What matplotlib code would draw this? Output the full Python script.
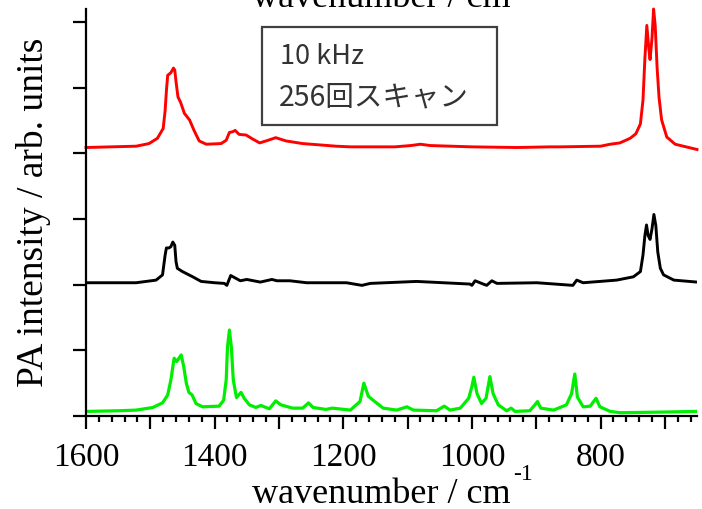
import matplotlib
matplotlib.use('Agg')
import matplotlib.pyplot as plt
from matplotlib.ticker import MultipleLocator, FuncFormatter
from matplotlib.patches import Rectangle

# spectra (wavenumber in cm-1, offset intensity)
red_x = [1600, 1522, 1502, 1489, 1480, 1477, 1475, 1473, 1468, 1464, 1462, 1460, 1457, 1453,
         1447, 1439, 1432, 1424, 1413, 1390, 1382, 1377, 1372, 1368, 1362, 1351,
         1341, 1330, 1317, 1305, 1289, 1263, 1211, 1189, 1120, 1095, 1080, 1065,
         1000, 930, 878, 863, 800, 785, 770, 754, 745, 738, 734, 731, 728, 725,
         723, 720, 717.5, 715, 712, 709, 705, 697, 684, 650]
red_y = [4.09, 4.11, 4.15, 4.23, 4.38, 4.65, 4.95, 5.19, 5.23, 5.30, 5.27, 5.09, 4.86, 4.78,
         4.61, 4.51, 4.35, 4.19, 4.14, 4.15, 4.20, 4.32, 4.33, 4.35, 4.29, 4.28,
         4.22, 4.16, 4.20, 4.24, 4.19, 4.15, 4.11, 4.10, 4.10, 4.12, 4.14, 4.12,
         4.10, 4.09, 4.10, 4.10, 4.11, 4.14, 4.16, 4.23, 4.30, 4.45, 4.81, 5.45,
         5.95, 5.60, 5.43, 5.75, 6.20, 5.95, 5.30, 4.85, 4.51, 4.25, 4.14, 4.06]

black_x = [1600, 1522, 1491, 1481, 1477, 1475, 1471, 1468, 1465, 1462, 1460, 1458,
           1450, 1434, 1421, 1400, 1385, 1381, 1375, 1360, 1350, 1329, 1311, 1303,
           1283, 1257, 1195, 1171, 1158, 1086, 1003, 1000, 995, 985, 977, 969, 961,
           899, 843, 837, 827, 775, 749, 738, 734, 731, 728.5, 726, 723, 720,
           717, 714, 711, 707, 702, 686, 650]
black_y = [2.03, 2.03, 2.07, 2.15, 2.45, 2.56, 2.56, 2.58, 2.65, 2.60, 2.35, 2.25,
           2.20, 2.12, 2.05, 2.03, 2.02, 1.99, 2.14, 2.06, 2.08, 2.04, 2.08, 2.06,
           2.06, 2.03, 2.03, 1.99, 2.02, 2.05, 2.01, 1.99, 2.06, 2.02, 1.99, 2.06, 2.02,
           2.03, 1.99, 2.07, 2.03, 2.07, 2.12, 2.20, 2.45, 2.75, 2.91, 2.75, 2.69, 2.85,
           3.07, 2.90, 2.50, 2.25, 2.15, 2.07, 2.04]

green_x = [1600, 1548, 1522, 1496, 1481, 1473, 1468, 1463, 1459, 1452, 1448, 1444,
           1440, 1435, 1429, 1419, 1393, 1386, 1382, 1380, 1377, 1374, 1371, 1366,
           1359, 1354, 1346, 1336, 1328, 1315, 1305, 1297, 1279, 1263, 1254, 1247,
           1227, 1217, 1189, 1174, 1168, 1161, 1151, 1138, 1117, 1101, 1091, 1055,
           1043, 1034, 1018, 1005, 1000, 997, 992, 985, 978, 972, 967, 959, 946,
           939, 933, 910, 902, 898, 893, 873, 853, 845, 840, 836, 827, 816, 807,
           801, 785, 769, 702, 650]
green_y = [0.07, 0.08, 0.09, 0.13, 0.20, 0.32, 0.55, 0.88, 0.83, 0.93, 0.75, 0.50,
           0.36, 0.32, 0.19, 0.14, 0.15, 0.24, 0.55, 1.05, 1.31, 1.05, 0.55, 0.28,
           0.36, 0.27, 0.17, 0.13, 0.16, 0.11, 0.23, 0.17, 0.12, 0.12, 0.20, 0.13,
           0.10, 0.12, 0.09, 0.22, 0.50, 0.30, 0.22, 0.12, 0.09, 0.14, 0.09, 0.08,
           0.15, 0.09, 0.12, 0.27, 0.45, 0.59, 0.34, 0.19, 0.27, 0.60, 0.34, 0.17, 0.08,
           0.12, 0.07, 0.08, 0.17, 0.22, 0.12, 0.09, 0.17, 0.34, 0.64, 0.29, 0.14, 0.15, 0.27,
           0.14, 0.07, 0.05, 0.06, 0.07]

serif = 'Liberation Serif'
cjk = ['Noto Sans CJK JP', 'DejaVu Sans']
W, H = 702, 509

fig = plt.figure(figsize=(W / 100, H / 100), dpi=100)
ax = fig.add_axes([86 / W, 1 - 416 / H, (697 - 86) / W, (416 - 9) / H])

ax.plot(red_x, red_y, color='#ff0000', lw=2.1, clip_on=False)
ax.plot(black_x, black_y, color='black', lw=2.1)
ax.plot(green_x, green_y, color='#00ee00', lw=2.3)

ax.set_xlim(1600, 650)
ax.set_ylim(0, 6.2)

for s in ['top', 'right']:
    ax.spines[s].set_visible(False)
for s in ['left', 'bottom']:
    ax.spines[s].set_linewidth(1.6)

ax.xaxis.set_major_locator(MultipleLocator(100))
ax.xaxis.set_minor_locator(MultipleLocator(20))
ax.xaxis.set_major_formatter(FuncFormatter(lambda v, p: f'{v:.0f}' if round(v) % 200 == 0 else ''))
ax.yaxis.set_major_locator(MultipleLocator(1))
ax.set_yticklabels([])
ax.tick_params(axis='x', which='major', direction='out', length=9, width=1.6, pad=10)
ax.tick_params(axis='x', which='minor', direction='out', length=4.5, width=1.6)
ax.tick_params(axis='y', which='major', direction='out', length=9.5, width=1.6)
for lab in ax.get_xticklabels():
    lab.set_fontfamily(serif)
    lab.set_fontsize(24)

# axis titles
ax.set_ylabel('PA intensity / arb. units', family=serif, fontsize=27, labelpad=12)
fig.text(252 / W, 1 - 503 / H, 'wavenumber / cm', family=serif, fontsize=26,
         ha='left', va='baseline')
fig.text(513 / W, 1 - 480 / H, '-1', family=serif, fontsize=17,
         ha='left', va='baseline')
# stray copy of the axis title at the very top, mostly off the canvas
fig.text(252 / W, 1 - 7 / H, 'wavenumber / cm', family=serif, fontsize=26,
         ha='left', va='baseline')

# annotation box
fig.patches.append(Rectangle((262 / W, 1 - 125 / H), (497 - 262) / W, (125 - 27) / H,
                             transform=fig.transFigure, fill=False,
                             edgecolor='#404040', lw=1.6))
fig.text(280 / W, 1 - 57 / H, '10 kHz', family=cjk,
         fontsize=19.5, color='#333333', ha='left', va='center')
fig.text(279 / W, 1 - 97 / H, '256回スキャン', family=cjk,
         fontsize=20.5, color='#333333', ha='left', va='center')

fig.savefig('out.png', dpi=100)
